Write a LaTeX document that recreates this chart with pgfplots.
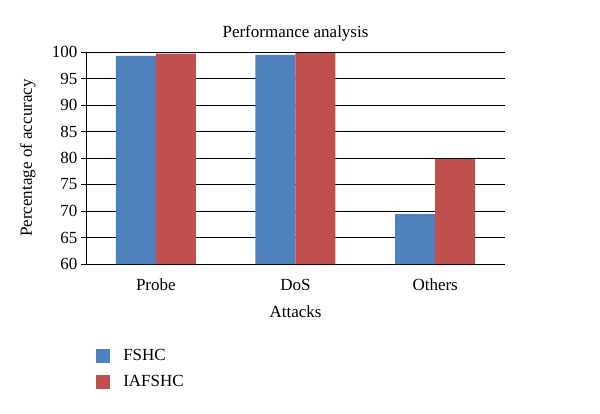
\documentclass[border=0pt]{standalone}
\usepackage{fontspec}
\setmainfont{Liberation Serif}
\usepackage{pgfplots}
\pgfplotsset{compat=1.18}

\definecolor{fshc}{HTML}{4F81BD}
\definecolor{iafshc}{HTML}{C0504D}

\begin{document}
\begin{tikzpicture}
\useasboundingbox (-86pt,-149pt) rectangle (514pt,264pt);
\begin{axis}[
    at={(0,0)}, anchor=south west,
    scale only axis,
    width=419pt, height=212pt,
    font=\fontsize{17}{20}\selectfont,
    /pgf/number format/assume math mode=true,
    ybar=0pt,
    bar width=40pt,
    xmin=-0.5, xmax=2.5,
    ymin=60, ymax=100,
    xtick=data,
    xticklabels={Probe, DoS, Others},
    ytick={60,65,...,100},
    axis x line=bottom, axis y line=left,
    axis line style={-, black, line width=0.8pt},
    x axis line style={draw=none},
    ymajorgrids,
    grid style={black, line width=0.8pt},
    tick align=outside,
    major tick length=5pt,
    xtick style={draw=none},
    ytick style={black, line width=0.8pt},
    xticklabel style={anchor=base, yshift=-21pt},
    yticklabel style={anchor=east},
    title={Performance analysis},
    title style={at={(axis description cs:0.5,1.058)}, anchor=center},
    xlabel={Attacks},
    xlabel style={at={(axis description cs:0.5,0)}, anchor=base, yshift=-53pt},
    ylabel={Percentage of accuracy},
    ylabel style={at={(axis description cs:-0.139,0.5)}, anchor=center, rotate=0},
    legend cell align=left,
    legend image code/.code={\fill[#1] (0pt,-7pt) rectangle (14pt,7pt);},
    legend style={draw=none, fill=none, at={(axis description cs:0.024,-0.40)},
      anchor=north west, inner sep=0pt, row sep=12pt,
      nodes={inner sep=0pt, anchor=west},
      /tikz/every odd column/.append style={column sep=13pt}},
  ]
  \addplot[fill=fshc, draw=none] coordinates {(0,99.25) (1,99.45) (2,69.4)};
  \addplot[fill=iafshc, draw=none] coordinates {(0,99.7) (1,99.8) (2,79.8)};
  \legend{FSHC, IAFSHC}
\end{axis}
\end{tikzpicture}
\end{document}
